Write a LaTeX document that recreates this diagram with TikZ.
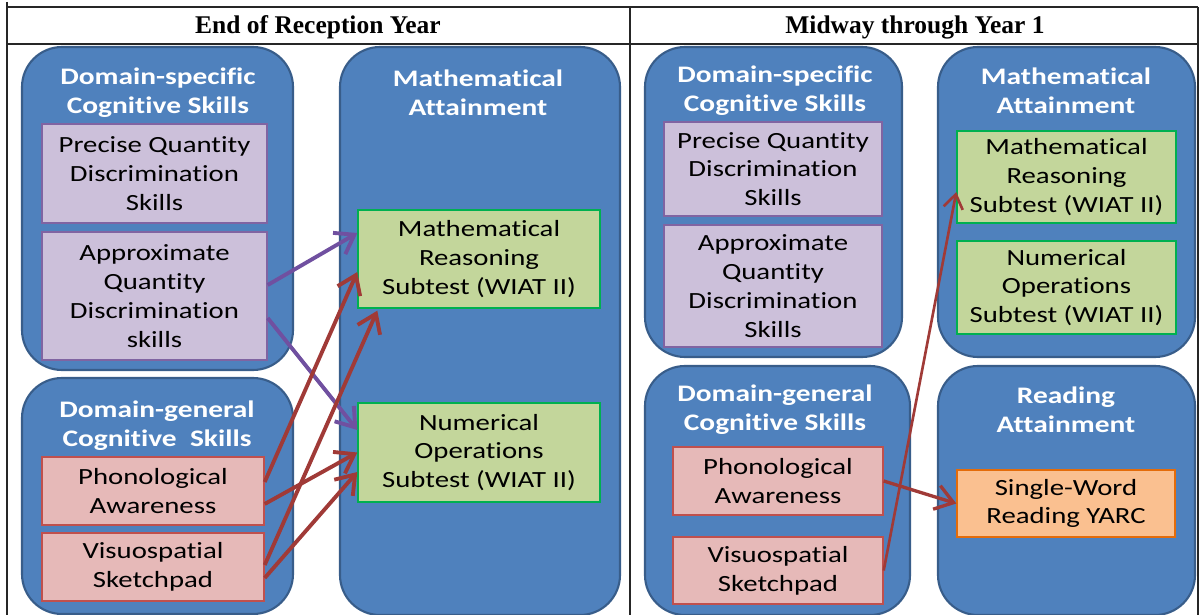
\documentclass[tikz,border=0pt]{standalone}
\usepackage{fontspec}
\newfontfamily\bodyfont{Carlito}[FakeStretch=1.24, Ligatures=NoCommon]
\newfontfamily\headfont{Liberation Serif}
\usetikzlibrary{arrows.meta}
\definecolor{blueF}{RGB}{79,129,189}
\definecolor{blueD}{RGB}{56,93,138}
\definecolor{purF}{RGB}{204,192,218}
\definecolor{purD}{RGB}{128,100,162}
\definecolor{grnF}{RGB}{195,214,155}
\definecolor{grnD}{RGB}{0,176,80}
\definecolor{pnkF}{RGB}{230,185,184}
\definecolor{pnkD}{RGB}{192,80,77}
\definecolor{orgF}{RGB}{250,192,144}
\definecolor{orgD}{RGB}{228,108,10}
\definecolor{arrR}{RGB}{160,58,55}
\definecolor{arrP}{RGB}{112,80,160}
\begin{document}
\begin{tikzpicture}[x=0.02cm,y=-0.02cm,
  sz/.style 2 args={minimum width=#1*0.02cm, minimum height=#2*0.02cm},
  panel/.style={draw=blueD, line width=1.2pt, fill=blueF, rounded corners=0.8cm, inner sep=0pt},
  ttl/.style={text=white, font=\bodyfont\bfseries\fontsize{13.5}{16.4}\selectfont, align=center, inner sep=0pt},
  item/.style={inner sep=0pt, align=center, font=\bodyfont\fontsize{13.2}{16.4}\selectfont, text=black, line width=0.8pt},
  pur/.style={item, draw=purD, fill=purF},
  grn/.style={item, draw=grnD, fill=grnF},
  pnk/.style={item, draw=pnkD, fill=pnkF},
  org/.style={item, draw=orgD, fill=orgF},
  head/.style={font=\headfont\bfseries\fontsize{14.5}{17}\selectfont, inner sep=0pt},
  tline/.style={line width=1.1pt, black!85},
  arr/.style={line width=2.2pt, -{Straight Barb[length=10pt,width=14pt]}},
  arrthin/.style={line width=1.5pt, -{Straight Barb[length=8pt,width=11pt]}}
]
\useasboundingbox (0,0) rectangle (1201,615);
\fill[white] (0,0) rectangle (1201,615);
\begin{scope}
\clip (0,0) rectangle (1201,615);
% table
\coordinate (tl) at (7,7);
\coordinate (tr) at (1198,7);
\coordinate (hl) at (7,44);
\coordinate (hr) at (1198,44);
\coordinate (bl) at (7,620);
\coordinate (br) at (1198,620);
\coordinate (mt) at (630,7);
\coordinate (mb) at (630,620);
\draw[tline] (tl) -- (tr);
\draw[tline] (hl) -- (hr);
\draw[tline] (7,2) -- (bl);
\draw[tline] (tr) -- (br);
\draw[tline] (mt) -- (mb);
\node[head] (h1) at (318,27) {End of Reception Year};
\node[head] (h2) at (915,27) {Midway through Year 1};

% ---------- left half ----------
\node[panel, sz={271}{323}] (lds) at (157.5,208.5) {};
\node[panel, sz={271}{236}] (ldg) at (157.5,496) {};
\node[panel, sz={280}{568}] (lma) at (480,331) {};
\node[ttl] (ldst) at (158,93) {Domain-specific\\Cognitive Skills};
\node[ttl] (lmat) at (478,93) {Mathematical\\Attainment};
\node[ttl] (ldgt) at (157,426) {Domain-general\\Cognitive\ \ Skills};

\node[pur, sz={225}{99}] (lpq) at (154.5,173.5) {Precise Quantity\\Discrimination\\Skills};
\node[pur, sz={225}{128}] (laq) at (154.5,296) {Approximate\\Quantity\\Discrimination\\skills};
\node[grn, sz={242}{98}] (lmr) at (479,259) {Mathematical\\Reasoning\\Subtest (WIAT II)};
\node[grn, sz={242}{99}] (lno) at (479,452.5) {Numerical\\Operations\\Subtest (WIAT II)};
\node[pnk, sz={222}{68}] (lph) at (153,491) {Phonological\\Awareness};
\node[pnk, sz={222}{68}] (lvs) at (153,567) {Visuospatial\\Sketchpad};

\draw[arr, arrP] ([shift={(0,-11)}]laq.east) -- ([shift={(0,-26)}]lmr.west);
\draw[arr, arrP] ([shift={(0,22)}]laq.east) -- ([shift={(0,-22.5)}]lno.west);
\draw[arr, arrR] ([shift={(0,-9)}]lph.east) -- ([shift={(0,13)}]lmr.west);
\draw[arr, arrR] ([shift={(0,-2)}]lvs.east) -- ([shift={(20,2)}]lmr.south west);
\draw[arr, arrR] ([shift={(0,13)}]lph.east) -- ([shift={(0,0)}]lno.west);
\draw[arr, arrR] ([shift={(0,11)}]lvs.east) -- ([shift={(0,19.5)}]lno.west);

% ---------- right half ----------
\node[panel, sz={257}{310}] (rds) at (773.5,202) {};
\node[panel, sz={257}{310}] (rma) at (1066.5,202) {};
\node[panel, sz={265}{249}] (rdg) at (777.5,490.5) {};
\node[panel, sz={257}{249}] (rra) at (1066.5,490.5) {};
\node[ttl] (rdst) at (775,91) {Domain-specific\\Cognitive Skills};
\node[ttl] (rmat) at (1066,91) {Mathematical\\Attainment};
\node[ttl] (rdgt) at (775,410) {Domain-general\\Cognitive Skills};
\node[ttl] (rrat) at (1066,410) {Reading\\Attainment};

\node[pur, sz={218}{94}] (rpq) at (773,169) {Precise Quantity\\Discrimination\\Skills};
\node[pur, sz={218}{122}] (raq) at (773,286) {Approximate\\Quantity\\Discrimination\\Skills};
\node[grn, sz={219}{92}] (rmr) at (1066.5,177) {Mathematical\\Reasoning\\Subtest (WIAT II)};
\node[grn, sz={219}{93}] (rno) at (1066.5,287.5) {Numerical\\Operations\\Subtest (WIAT II)};
\node[pnk, sz={210}{68}] (rph) at (778,481) {Phonological\\Awareness};
\node[pnk, sz={210}{67}] (rvs) at (778,570.5) {Visuospatial\\Sketchpad};
\node[org, sz={218}{67}] (ryr) at (1066,503.5) {Single-Word\\Reading YARC};

\draw[arrthin, arrR] (rvs.east) -- ([shift={(0,15)}]rmr.west);
\draw[arr, arrR, line width=1.9pt] (rph.east) -- (ryr.west);
\end{scope}
\end{tikzpicture}
\end{document}
